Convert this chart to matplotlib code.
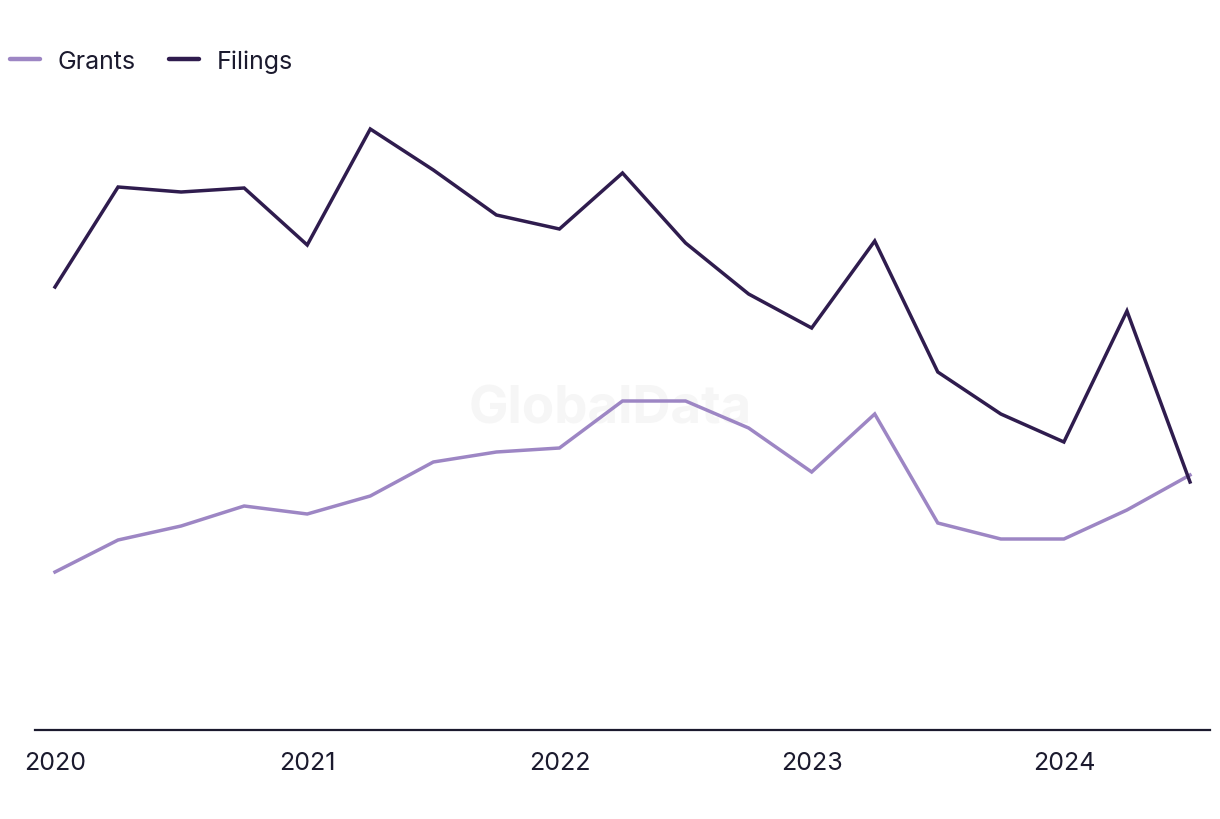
import matplotlib
matplotlib.use("Agg")
import matplotlib.pyplot as plt
from matplotlib.lines import Line2D

plt.rcParams['font.family'] = ['Inter', 'DejaVu Sans']

quarters = ["2020Q1", "2020Q2", "2020Q3", "2020Q4",
            "2021Q1", "2021Q2", "2021Q3", "2021Q4",
            "2022Q1", "2022Q2", "2022Q3", "2022Q4",
            "2023Q1", "2023Q2", "2023Q3", "2023Q4",
            "2024Q1", "2024Q2", "2024Q3"]
filings = [443, 543, 538, 542, 485, 601, 560, 515, 501, 557, 487, 436,
           402, 489, 358, 316, 288, 419, 248]
grants = [158, 190, 204, 224, 216, 234, 268, 278, 282, 329, 329, 302,
          258, 316, 207, 191, 191, 220, 255]
year_labels = ["2020", "2021", "2022", "2023", "2024"]
year_positions = [0, 4, 8, 12, 16]

grant_color = "#9d86c4"
filing_color = "#2f1c4e"
text_color = "#1b1a2e"

fig = plt.figure(figsize=(12.2, 8.2), dpi=100)
ax = fig.add_axes([35/1220, 1-731/820, 1175/1220, 630/820])

x = list(range(len(quarters)))
pad = 20/63.06
ax.plot(x, grants, color=grant_color, lw=2.5, solid_joinstyle='miter', zorder=3)
ax.plot(x, filings, color=filing_color, lw=2.5, solid_joinstyle='miter', zorder=4)

ax.set_xlim(-pad, len(quarters)-1 + pad)
ax.set_ylim(0, 630)

for s in ['top', 'right', 'left']:
    ax.spines[s].set_visible(False)
ax.spines['bottom'].set_color(text_color)
ax.spines['bottom'].set_linewidth(1.6)
ax.set_yticks([])
ax.set_xticks(year_positions)
ax.set_xticklabels(year_labels, fontsize=18, color=text_color)
ax.tick_params(axis='x', length=0, pad=15)

ax.text(0.5, 1-410/820, "GlobalData", fontsize=38, fontweight='bold',
        color="#f6f6f6", ha='center', va='center', zorder=0,
        transform=fig.transFigure)

handles = [Line2D([], [], color=grant_color, lw=3.2, solid_capstyle='round'),
           Line2D([], [], color=filing_color, lw=3.2, solid_capstyle='round')]
fig.legend(handles, ["Grants", "Filings"], loc='center left',
           bbox_to_anchor=(10/1220, 1-62/820), ncol=2, frameon=False,
           fontsize=18, labelcolor=text_color, handlelength=1.2,
           handletextpad=0.72, columnspacing=1.3, borderaxespad=0, borderpad=0)

fig.savefig("out.png", dpi=100, facecolor='white')
